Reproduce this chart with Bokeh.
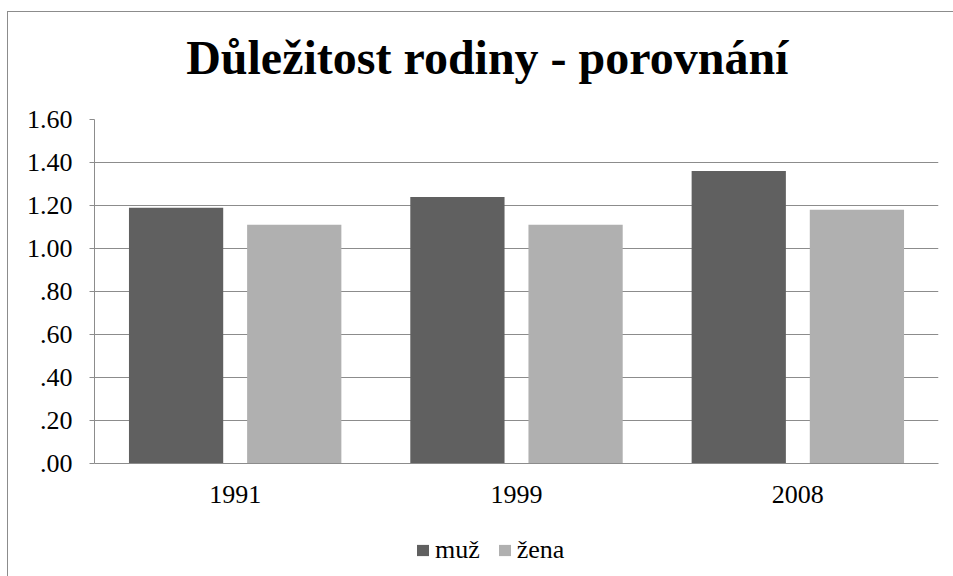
from bokeh.plotting import figure
from bokeh.layouts import column
from bokeh.models import (ColumnDataSource, FactorRange, Range1d, FixedTicker, Legend,
                          LegendItem, Label)
from bokeh.transform import dodge
from bokeh.embed import file_html
from bokeh.resources import INLINE

# ---- data ----
years = ["1991", "1999", "2008"]
muz = [1.19, 1.24, 1.36]
zena = [1.11, 1.11, 1.18]
y_ticks = [0.0, 0.2, 0.4, 0.6, 0.8, 1.0, 1.2, 1.4, 1.6]
y_tick_labels = [".00", ".20", ".40", ".60", ".80", "1.00", "1.20", "1.40", "1.60"]
series_names = ["muž", "žena"]
title_text = "Důležitost rodiny - porovnání"

FONT = "Liberation Serif"
GRID = "#8c8c8c"
C_MUZ = "#606060"
C_ZENA = "#b0b0b0"
W = 945

src = ColumnDataSource(dict(year=years, muz=muz, zena=zena))


def bare(fig):
    fig.outline_line_color = None
    fig.background_fill_color = "white"
    fig.border_fill_color = "white"
    fig.xgrid.grid_line_color = None
    fig.ygrid.grid_line_color = None
    return fig


# ---- title strip ----
TH = 87
pt = bare(figure(width=W, height=TH, output_backend="svg", toolbar_location=None,
                 x_range=Range1d(0, W), y_range=Range1d(0, TH),
                 x_axis_location=None, y_axis_location=None, min_border=0))
pt.add_layout(Label(x=479, y=24, x_offset=-35, y_offset=18, text=title_text,
                    text_font=FONT, text_font_size="48px",
                    text_font_style="bold", text_align="center", text_baseline="alphabetic",
                    text_color="black"))

# ---- main chart ----
p = figure(width=W, height=424, output_backend="svg", toolbar_location=None,
           x_range=FactorRange(*years, range_padding=0.0),
           y_range=Range1d(0, y_ticks[-1]),
           min_border_left=86, min_border_right=15, min_border_top=20, min_border_bottom=60)
p.outline_line_color = None
p.background_fill_color = "white"
p.border_fill_color = "white"

p.vbar(x=dodge("year", -0.21, range=p.x_range), top="muz", width=0.335,
       source=src, fill_color=C_MUZ, line_color=None)
p.vbar(x=dodge("year", 0.21, range=p.x_range), top="zena", width=0.335,
       source=src, fill_color=C_ZENA, line_color=None)

p.yaxis.ticker = FixedTicker(ticks=y_ticks)
p.yaxis.major_label_overrides = {t: l for t, l in zip(y_ticks, y_tick_labels)}
p.yaxis.minor_tick_line_color = None
p.yaxis.major_tick_out = 5
p.yaxis.major_tick_in = 0
p.yaxis.major_tick_line_color = GRID
p.yaxis.axis_line_color = GRID
p.yaxis.major_label_standoff = 17
p.xaxis.major_tick_line_color = None
p.xaxis.major_tick_out = 0
p.xaxis.axis_line_color = GRID
p.xaxis.major_label_standoff = 22
for ax in (p.xaxis, p.yaxis):
    ax.major_label_text_font = FONT
    ax.major_label_text_font_size = "26px"
    ax.major_label_text_color = "black"
    ax.axis_line_width = 1
p.xgrid.grid_line_color = None
p.ygrid.grid_line_color = GRID
p.ygrid.grid_line_width = 1

# ---- legend strip ----
pl = bare(figure(width=W, height=53, output_backend="svg", toolbar_location=None,
                 x_range=FactorRange(*years, range_padding=0.0), y_range=Range1d(10, 11),
                 x_axis_location=None, y_axis_location=None, min_border=0))
l1 = pl.vbar(x=dodge("year", -0.21, range=pl.x_range), top="muz", width=0.335,
             source=src, fill_color=C_MUZ, line_color=None)
l2 = pl.vbar(x=dodge("year", 0.21, range=pl.x_range), top="zena", width=0.335,
             source=src, fill_color=C_ZENA, line_color=None)
legend = Legend(items=[LegendItem(label=series_names[0], renderers=[l1]),
                       LegendItem(label=series_names[1], renderers=[l2])],
                location=(321, 11), orientation="horizontal",
                glyph_width=15, glyph_height=14, label_standoff=5, spacing=17,
                padding=0, margin=0, border_line_color=None, background_fill_alpha=0,
                label_text_font=FONT, label_text_font_size="26px", label_text_color="black")
pl.add_layout(legend, "center")

layout = column(pt, p, pl, spacing=0,
                styles={"outline": "1px solid " + GRID, "position": "relative",
                        "left": "8px", "top": "12px"})

open("out.html", "w").write(file_html(layout, INLINE))
